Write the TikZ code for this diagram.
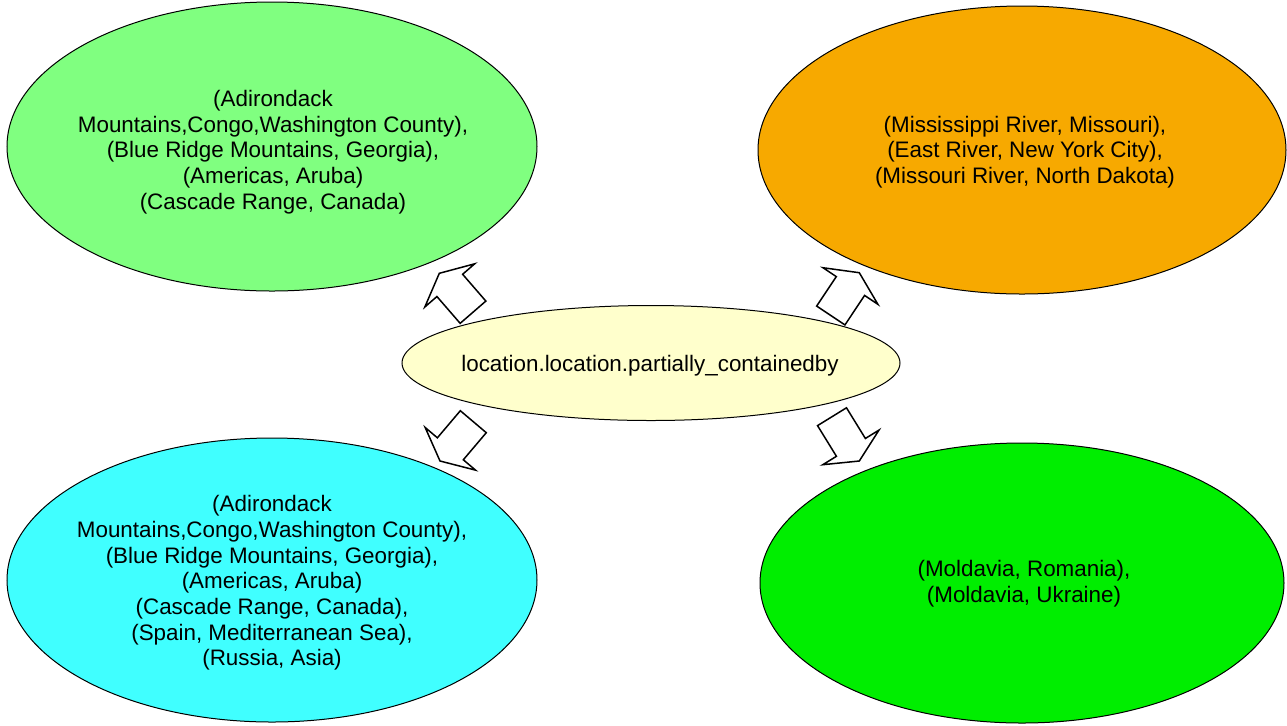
\documentclass[tikz,border=0pt]{standalone}
\usepackage{fontspec}
\setmainfont{Liberation Sans}
\usetikzlibrary{shapes.geometric,calc}
\definecolor{lgreen}{HTML}{80FF80}
\definecolor{orng}{HTML}{F7A900}
\definecolor{lyellow}{HTML}{FFFFCC}
\definecolor{cyanfill}{HTML}{40FFFF}
\definecolor{brgreen}{HTML}{00EE00}
\tikzset{
  oval/.style={ellipse, draw=black, line width=0.5pt, inner sep=0pt},
  txt/.style={align=center, inner sep=0pt, font=\fontsize{11.2}{12.85}\selectfont},
  blockarrow/.style={draw=black, fill=white, line width=0.75pt, line join=miter,
    to path={
      let \p1=($(\tikztotarget)!8pt!(\tikztostart)$) in
      ($(\tikztostart)!8.5pt!90:(\tikztotarget)$) --
      ($(\p1)!8.5pt!90:(\tikztotarget)$) --
      ($(\p1)!16.5pt!90:(\tikztotarget)$) --
      (\tikztotarget) --
      ($(\p1)!16.5pt!-90:(\tikztotarget)$) --
      ($(\p1)!8.5pt!-90:(\tikztotarget)$) --
      ($(\tikztostart)!8.5pt!-90:(\tikztotarget)$) -- cycle
    }}
}
\begin{document}
\begin{tikzpicture}[x=0.5pt,y=-0.5pt]
\useasboundingbox[fill=white] (0,0) rectangle (1287,725);

\node[oval, fill=lgreen, minimum width=265pt, minimum height=144.5pt,
  label={[txt, xshift=0.5pt, yshift=-2.7pt]center:{(Adirondack\\Mountains,Congo,Washington County),\\(Blue Ridge Mountains, Georgia),\\(Americas, Aruba)\\(Cascade Range, Canada)}}] (tl) at (272,146.5) {};

\node[oval, fill=orng, minimum width=264pt, minimum height=144pt,
  label={[txt, xshift=1.5pt, yshift=-1pt]center:{(Mississippi River, Missouri),\\(East River, New York City),\\(Missouri River, North Dakota)}}] (tr) at (1022,150) {};

\node[oval, fill=lyellow, minimum width=249pt, minimum height=57.5pt,
  label={[txt, xshift=-0.5pt, yshift=-1.5pt]center:{location.location.partially\_containedby}}] (c) at (651,363) {};

\node[oval, fill=cyanfill, minimum width=265pt, minimum height=142pt,
  label={[txt, yshift=-1.5pt]center:{(Adirondack\\Mountains,Congo,Washington County),\\(Blue Ridge Mountains, Georgia),\\(Americas, Aruba)\\(Cascade Range, Canada),\\(Spain, Mediterranean Sea),\\(Russia, Asia)}}] (bl) at (272,580) {};

\node[oval, fill=brgreen, minimum width=262pt, minimum height=140pt,
  label={[txt, xshift=1pt, yshift=-0.5pt]center:{(Moldavia, Romania),\\(Moldavia, Ukraine)}}] (br) at (1022,583) {};

\coordinate (a1s) at (473,312.2);
\coordinate (a1e) at (439.3,273.3);
\coordinate (a2s) at (830.8,315.5);
\coordinate (a2e) at (859.3,272.7);
\coordinate (a3s) at (473.3,421.7);
\coordinate (a3e) at (440,461);
\coordinate (a4s) at (832,416.7);
\coordinate (a4e) at (859.3,461);

\draw[blockarrow] (a1s) to (a1e);
\draw[blockarrow] (a2s) to (a2e);
\draw[blockarrow] (a3s) to (a3e);
\draw[blockarrow] (a4s) to (a4e);
\end{tikzpicture}
\end{document}
